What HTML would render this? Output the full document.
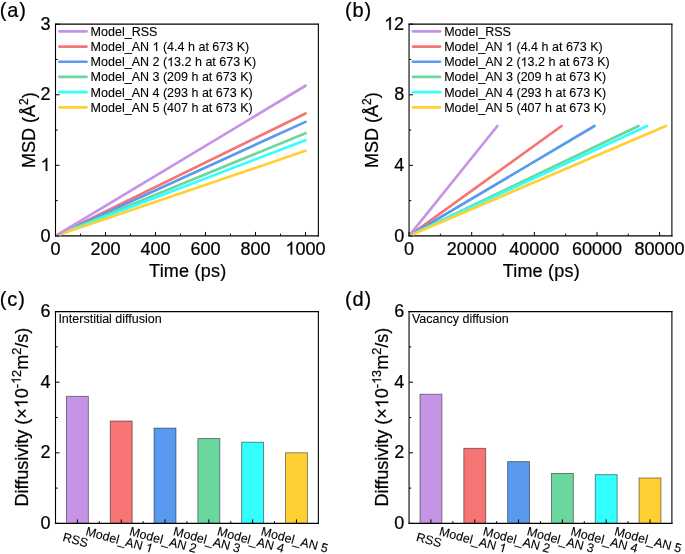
<!DOCTYPE html>
<html><head><meta charset="utf-8"><style>
html,body{margin:0;padding:0;background:#fff;}
svg{display:block;will-change:transform;}
text{stroke:#000;stroke-width:0.22px;}
.s{stroke-width:0.1px;}
</style></head><body>
<svg width="685" height="554" viewBox="0 0 685 554" font-family="&quot;Liberation Sans&quot;, sans-serif" fill="#000">
<rect width="685" height="554" fill="#fff"></rect>
<text transform="translate(-0.2,16.7) scale(1,1.04)" font-size="20" letter-spacing="0.85">(a)</text>
<text transform="translate(345.1,16.7) scale(1,1.04)" font-size="20" letter-spacing="0.85">(b)</text>
<text transform="translate(-0.2,305.75) scale(1,1.04)" font-size="20" letter-spacing="0.85">(c)</text>
<text transform="translate(345.1,305.75) scale(1,1.04)" font-size="20" letter-spacing="0.85">(d)</text>
<clipPath id="c55"><rect x="56.05" y="24.2" width="261.75" height="211.70"></rect></clipPath>
<path d="M55.5 23.7V236.5M318.35 23.7V236.5" stroke="#000" stroke-width="1.1" fill="none"></path>
<path d="M54.95 24.2H318.90000000000003M54.95 235.9H318.90000000000003" stroke="#000" stroke-width="1.25" fill="none"></path>
<g clip-path="url(#c55)">
<line x1="55.5" y1="235.9" x2="305.50" y2="113.47" stroke="#F77474" stroke-width="2.7" stroke-linecap="round"></line>
<line x1="55.5" y1="235.9" x2="305.50" y2="121.86" stroke="#5A9AEE" stroke-width="2.7" stroke-linecap="round"></line>
<line x1="55.5" y1="235.9" x2="305.50" y2="133.23" stroke="#6BD69D" stroke-width="2.7" stroke-linecap="round"></line>
<line x1="55.5" y1="235.9" x2="305.50" y2="140.21" stroke="#33FFFF" stroke-width="2.7" stroke-linecap="round"></line>
<line x1="55.5" y1="235.9" x2="305.50" y2="150.80" stroke="#FFCF33" stroke-width="2.7" stroke-linecap="round"></line>
<line x1="55.5" y1="235.9" x2="305.50" y2="85.73" stroke="#C594E6" stroke-width="2.7" stroke-linecap="round"></line>
</g>
<line x1="59.4" y1="31.35" x2="86.5" y2="31.35" stroke="#C594E6" stroke-width="2.7" stroke-linecap="round"></line>
<text x="90.6" y="35.85" font-size="12.52" class="s">Model_RSS</text>
<line x1="59.4" y1="46.55" x2="86.5" y2="46.55" stroke="#F77474" stroke-width="2.7" stroke-linecap="round"></line>
<text x="90.6" y="51.05" font-size="12.52" class="s">Model_AN &#8199; (4.4 h at 673 K)</text><g><path d="M763 0H583V1147Q518 1085 465 1054Q412 1023 359 992Q306 961 223 930V1104Q374 1175 430.5 1225.5Q487 1276 543.5 1326.5Q600 1377 647 1472H763Z" transform="translate(152.51,51.05) scale(0.006113,-0.006113)" stroke="#000" stroke-width="16.4"></path></g>
<line x1="59.4" y1="61.75" x2="86.5" y2="61.75" stroke="#5A9AEE" stroke-width="2.7" stroke-linecap="round"></line>
<text x="90.6" y="66.25" font-size="12.52" class="s">Model_AN 2 (&#8199;3.2 h at 673 K)</text><g><path d="M763 0H583V1147Q518 1085 465 1054Q412 1023 359 992Q306 961 223 930V1104Q374 1175 430.5 1225.5Q487 1276 543.5 1326.5Q600 1377 647 1472H763Z" transform="translate(167.12,66.25) scale(0.006113,-0.006113)" stroke="#000" stroke-width="16.4"></path></g>
<line x1="59.4" y1="76.95" x2="86.5" y2="76.95" stroke="#6BD69D" stroke-width="2.7" stroke-linecap="round"></line>
<text x="90.6" y="81.45" font-size="12.52" class="s">Model_AN 3 (209 h at 673 K)</text>
<line x1="59.4" y1="92.15" x2="86.5" y2="92.15" stroke="#33FFFF" stroke-width="2.7" stroke-linecap="round"></line>
<text x="90.6" y="96.65" font-size="12.52" class="s">Model_AN 4 (293 h at 673 K)</text>
<line x1="59.4" y1="107.35" x2="86.5" y2="107.35" stroke="#FFCF33" stroke-width="2.7" stroke-linecap="round"></line>
<text x="90.6" y="111.85" font-size="12.52" class="s">Model_AN 5 (407 h at 673 K)</text>
<path d="M55.50 235.9v-4M105.50 235.9v-4M155.50 235.9v-4M205.50 235.9v-4M255.50 235.9v-4M305.50 235.9v-4M80.50 235.9v-2.2M130.50 235.9v-2.2M180.50 235.9v-2.2M230.50 235.9v-2.2M280.50 235.9v-2.2" stroke="#000" stroke-width="1" fill="none"></path>
<text x="55.50" y="254.6" text-anchor="middle" font-size="18">0</text>
<text x="105.50" y="254.6" text-anchor="middle" font-size="18">200</text>
<text x="155.50" y="254.6" text-anchor="middle" font-size="18">400</text>
<text x="205.50" y="254.6" text-anchor="middle" font-size="18">600</text>
<text x="255.50" y="254.6" text-anchor="middle" font-size="18">800</text>
<text x="305.50" y="254.6" text-anchor="middle" font-size="18">&#8199;000</text><g><path d="M763 0H583V1147Q518 1085 465 1054Q412 1023 359 992Q306 961 223 930V1104Q374 1175 430.5 1225.5Q487 1276 543.5 1326.5Q600 1377 647 1472H763Z" transform="translate(285.48,254.60) scale(0.008789,-0.008789)" stroke="#000" stroke-width="25.0"></path></g>
<path d="M55.5 235.90h4M55.5 165.33h4M55.5 94.77h4M55.5 24.20h4M55.5 200.62h2.2M55.5 130.05h2.2M55.5 59.48h2.2" stroke="#000" stroke-width="1" fill="none"></path>
<text x="50.6" y="241.55" text-anchor="end" font-size="18">0</text>
<text x="50.6" y="170.98" text-anchor="end" font-size="18">&#8199;</text><g><path d="M763 0H583V1147Q518 1085 465 1054Q412 1023 359 992Q306 961 223 930V1104Q374 1175 430.5 1225.5Q487 1276 543.5 1326.5Q600 1377 647 1472H763Z" transform="translate(40.58,170.98) scale(0.008789,-0.008789)" stroke="#000" stroke-width="25.0"></path></g>
<text x="50.6" y="100.42" text-anchor="end" font-size="18">2</text>
<text x="50.6" y="29.85" text-anchor="end" font-size="18">3</text>
<text x="149.10" y="276.6" font-size="18" letter-spacing="0.22">Time (ps)</text>
<text transform="translate(35.25,130.05) rotate(-90)" text-anchor="middle" font-size="18">MSD (Å<tspan dy="-7" font-size="12">2</tspan><tspan dy="7">)</tspan></text>
<clipPath id="c409"><rect x="409.6" y="24.2" width="261.75" height="211.70"></rect></clipPath>
<path d="M409.05 23.7V236.5M671.9 23.7V236.5" stroke="#000" stroke-width="1.1" fill="none"></path>
<path d="M408.5 24.2H672.4499999999999M408.5 235.9H672.4499999999999" stroke="#000" stroke-width="1.25" fill="none"></path>
<g clip-path="url(#c409)">
<line x1="409.05" y1="235.9" x2="561.57" y2="125.99" stroke="#F77474" stroke-width="2.7" stroke-linecap="round"></line>
<line x1="409.05" y1="235.9" x2="594.46" y2="125.99" stroke="#5A9AEE" stroke-width="2.7" stroke-linecap="round"></line>
<line x1="409.05" y1="235.9" x2="638.46" y2="125.99" stroke="#6BD69D" stroke-width="2.7" stroke-linecap="round"></line>
<line x1="409.05" y1="235.9" x2="647.07" y2="125.99" stroke="#33FFFF" stroke-width="2.7" stroke-linecap="round"></line>
<line x1="409.05" y1="235.9" x2="665.86" y2="125.99" stroke="#FFCF33" stroke-width="2.7" stroke-linecap="round"></line>
<line x1="409.05" y1="235.9" x2="497.37" y2="125.99" stroke="#C594E6" stroke-width="2.7" stroke-linecap="round"></line>
</g>
<line x1="412.95" y1="31.35" x2="440.05" y2="31.35" stroke="#C594E6" stroke-width="2.7" stroke-linecap="round"></line>
<text x="444.15000000000003" y="35.85" font-size="12.52" class="s">Model_RSS</text>
<line x1="412.95" y1="46.55" x2="440.05" y2="46.55" stroke="#F77474" stroke-width="2.7" stroke-linecap="round"></line>
<text x="444.15000000000003" y="51.05" font-size="12.52" class="s">Model_AN &#8199; (4.4 h at 673 K)</text><g><path d="M763 0H583V1147Q518 1085 465 1054Q412 1023 359 992Q306 961 223 930V1104Q374 1175 430.5 1225.5Q487 1276 543.5 1326.5Q600 1377 647 1472H763Z" transform="translate(506.06,51.05) scale(0.006113,-0.006113)" stroke="#000" stroke-width="16.4"></path></g>
<line x1="412.95" y1="61.75" x2="440.05" y2="61.75" stroke="#5A9AEE" stroke-width="2.7" stroke-linecap="round"></line>
<text x="444.15000000000003" y="66.25" font-size="12.52" class="s">Model_AN 2 (&#8199;3.2 h at 673 K)</text><g><path d="M763 0H583V1147Q518 1085 465 1054Q412 1023 359 992Q306 961 223 930V1104Q374 1175 430.5 1225.5Q487 1276 543.5 1326.5Q600 1377 647 1472H763Z" transform="translate(520.67,66.25) scale(0.006113,-0.006113)" stroke="#000" stroke-width="16.4"></path></g>
<line x1="412.95" y1="76.95" x2="440.05" y2="76.95" stroke="#6BD69D" stroke-width="2.7" stroke-linecap="round"></line>
<text x="444.15000000000003" y="81.45" font-size="12.52" class="s">Model_AN 3 (209 h at 673 K)</text>
<line x1="412.95" y1="92.15" x2="440.05" y2="92.15" stroke="#33FFFF" stroke-width="2.7" stroke-linecap="round"></line>
<text x="444.15000000000003" y="96.65" font-size="12.52" class="s">Model_AN 4 (293 h at 673 K)</text>
<line x1="412.95" y1="107.35" x2="440.05" y2="107.35" stroke="#FFCF33" stroke-width="2.7" stroke-linecap="round"></line>
<text x="444.15000000000003" y="111.85" font-size="12.52" class="s">Model_AN 5 (407 h at 673 K)</text>
<path d="M409.05 235.9v-4M471.69 235.9v-4M534.33 235.9v-4M596.96 235.9v-4M659.60 235.9v-4M440.37 235.9v-2.2M503.01 235.9v-2.2M565.64 235.9v-2.2M628.28 235.9v-2.2" stroke="#000" stroke-width="1" fill="none"></path>
<text x="409.05" y="254.6" text-anchor="middle" font-size="18">0</text>
<text x="471.69" y="254.6" text-anchor="middle" font-size="18">20000</text>
<text x="534.33" y="254.6" text-anchor="middle" font-size="18">40000</text>
<text x="596.96" y="254.6" text-anchor="middle" font-size="18">60000</text>
<text x="659.60" y="254.6" text-anchor="middle" font-size="18">80000</text>
<path d="M409.05 235.90h4M409.05 165.33h4M409.05 94.77h4M409.05 24.20h4M409.05 200.62h2.2M409.05 130.05h2.2M409.05 59.48h2.2" stroke="#000" stroke-width="1" fill="none"></path>
<text x="404.15000000000003" y="241.55" text-anchor="end" font-size="18">0</text>
<text x="404.15000000000003" y="170.98" text-anchor="end" font-size="18">4</text>
<text x="404.15000000000003" y="100.42" text-anchor="end" font-size="18">8</text>
<text x="404.15000000000003" y="29.85" text-anchor="end" font-size="18">&#8199;2</text><g><path d="M763 0H583V1147Q518 1085 465 1054Q412 1023 359 992Q306 961 223 930V1104Q374 1175 430.5 1225.5Q487 1276 543.5 1326.5Q600 1377 647 1472H763Z" transform="translate(384.12,29.85) scale(0.008789,-0.008789)" stroke="#000" stroke-width="25.0"></path></g>
<text x="502.65" y="276.6" font-size="18" letter-spacing="0.22">Time (ps)</text>
<text transform="translate(378.0,130.05) rotate(-90)" text-anchor="middle" font-size="18">MSD (Å<tspan dy="-7" font-size="12">2</tspan><tspan dy="7">)</tspan></text>
<rect x="66.45" y="396.32" width="21.90" height="127.08" fill="#C594E6" stroke="#000" stroke-opacity="0.5" stroke-width="0.9"></rect>
<rect x="110.26" y="421.03" width="21.90" height="102.37" fill="#F77474" stroke="#000" stroke-opacity="0.5" stroke-width="0.9"></rect>
<rect x="154.07" y="428.09" width="21.90" height="95.31" fill="#5A9AEE" stroke="#000" stroke-opacity="0.5" stroke-width="0.9"></rect>
<rect x="197.88" y="438.50" width="21.90" height="84.90" fill="#6BD69D" stroke="#000" stroke-opacity="0.5" stroke-width="0.9"></rect>
<rect x="241.69" y="442.21" width="21.90" height="81.19" fill="#33FFFF" stroke="#000" stroke-opacity="0.5" stroke-width="0.9"></rect>
<rect x="285.49" y="452.80" width="21.90" height="70.60" fill="#FFCF33" stroke="#000" stroke-opacity="0.5" stroke-width="0.9"></rect>
<path d="M55.5 311.1V524.0M318.35 311.1V524.0" stroke="#000" stroke-width="1.1" fill="none"></path>
<path d="M54.95 311.6H318.90000000000003M54.95 523.4H318.90000000000003" stroke="#000" stroke-width="1.25" fill="none"></path>
<path d="M77.40 523.4v-4M121.21 523.4v-4M165.02 523.4v-4M208.83 523.4v-4M252.64 523.4v-4M296.45 523.4v-4M99.31 523.4v-2.2M143.12 523.4v-2.2M186.93 523.4v-2.2M230.73 523.4v-2.2M274.54 523.4v-2.2" stroke="#000" stroke-width="1" fill="none"></path>
<text transform="translate(74.40,544) rotate(15)" text-anchor="middle" font-size="12.5" class="s">RSS</text>
<text transform="translate(118.21,544) rotate(15)" text-anchor="middle" font-size="12.5" class="s">Model_AN &#8199;</text><g transform="translate(118.21,544) rotate(15)"><path d="M763 0H583V1147Q518 1085 465 1054Q412 1023 359 992Q306 961 223 930V1104Q374 1175 430.5 1225.5Q487 1276 543.5 1326.5Q600 1377 647 1472H763Z" transform="translate(27.43,0.00) scale(0.006104,-0.006104)" stroke="#000" stroke-width="16.4"></path></g>
<text transform="translate(162.02,544) rotate(15)" text-anchor="middle" font-size="12.5" class="s">Model_AN 2</text>
<text transform="translate(205.83,544) rotate(15)" text-anchor="middle" font-size="12.5" class="s">Model_AN 3</text>
<text transform="translate(249.64,544) rotate(15)" text-anchor="middle" font-size="12.5" class="s">Model_AN 4</text>
<text transform="translate(293.45,544) rotate(15)" text-anchor="middle" font-size="12.5" class="s">Model_AN 5</text>
<path d="M55.5 523.40h4M55.5 452.80h4M55.5 382.20h4M55.5 311.60h4M55.5 488.10h2.2M55.5 417.50h2.2M55.5 346.90h2.2" stroke="#000" stroke-width="1" fill="none"></path>
<text x="50.6" y="529.05" text-anchor="end" font-size="18">0</text>
<text x="50.6" y="458.45" text-anchor="end" font-size="18">2</text>
<text x="50.6" y="387.85" text-anchor="end" font-size="18">4</text>
<text x="50.6" y="317.25" text-anchor="end" font-size="18">6</text>
<text x="58.4" y="322.6" font-size="12.5" class="s">Interstitial diffusion</text>
<text transform="translate(27.6,417.10) rotate(-90)" text-anchor="middle" font-size="18">Diffusivity (×&#8199;0<tspan dy="-7" font-size="12.7">-&#8199;2</tspan><tspan dy="7">m</tspan><tspan dy="-7" font-size="12.7">2</tspan><tspan dy="7">/s)</tspan></text><g transform="translate(27.6,417.10) rotate(-90)"><path d="M763 0H583V1147Q518 1085 465 1054Q412 1023 359 992Q306 961 223 930V1104Q374 1175 430.5 1225.5Q487 1276 543.5 1326.5Q600 1377 647 1472H763Z" transform="translate(8.88,0.00) scale(0.008789,-0.008789)" stroke="#000" stroke-width="25.0"></path><path d="M763 0H583V1147Q518 1085 465 1054Q412 1023 359 992Q306 961 223 930V1104Q374 1175 430.5 1225.5Q487 1276 543.5 1326.5Q600 1377 647 1472H763Z" transform="translate(33.13,-7.00) scale(0.006201,-0.006201)" stroke="#000" stroke-width="35.5"></path></g>
<rect x="420.00" y="394.20" width="21.90" height="129.20" fill="#C594E6" stroke="#000" stroke-opacity="0.5" stroke-width="0.9"></rect>
<rect x="463.81" y="448.32" width="21.90" height="75.08" fill="#F77474" stroke="#000" stroke-opacity="0.5" stroke-width="0.9"></rect>
<rect x="507.62" y="461.62" width="21.90" height="61.77" fill="#5A9AEE" stroke="#000" stroke-opacity="0.5" stroke-width="0.9"></rect>
<rect x="551.43" y="473.49" width="21.90" height="49.91" fill="#6BD69D" stroke="#000" stroke-opacity="0.5" stroke-width="0.9"></rect>
<rect x="595.24" y="474.69" width="21.90" height="48.71" fill="#33FFFF" stroke="#000" stroke-opacity="0.5" stroke-width="0.9"></rect>
<rect x="639.04" y="478.00" width="21.90" height="45.40" fill="#FFCF33" stroke="#000" stroke-opacity="0.5" stroke-width="0.9"></rect>
<path d="M409.05 311.1V524.0M671.9 311.1V524.0" stroke="#000" stroke-width="1.1" fill="none"></path>
<path d="M408.5 311.6H672.4499999999999M408.5 523.4H672.4499999999999" stroke="#000" stroke-width="1.25" fill="none"></path>
<path d="M430.95 523.4v-4M474.76 523.4v-4M518.57 523.4v-4M562.38 523.4v-4M606.19 523.4v-4M650.00 523.4v-4M452.86 523.4v-2.2M496.67 523.4v-2.2M540.48 523.4v-2.2M584.28 523.4v-2.2M628.09 523.4v-2.2" stroke="#000" stroke-width="1" fill="none"></path>
<text transform="translate(427.95,544) rotate(15)" text-anchor="middle" font-size="12.5" class="s">RSS</text>
<text transform="translate(471.76,544) rotate(15)" text-anchor="middle" font-size="12.5" class="s">Model_AN &#8199;</text><g transform="translate(471.76,544) rotate(15)"><path d="M763 0H583V1147Q518 1085 465 1054Q412 1023 359 992Q306 961 223 930V1104Q374 1175 430.5 1225.5Q487 1276 543.5 1326.5Q600 1377 647 1472H763Z" transform="translate(27.43,0.00) scale(0.006104,-0.006104)" stroke="#000" stroke-width="16.4"></path></g>
<text transform="translate(515.57,544) rotate(15)" text-anchor="middle" font-size="12.5" class="s">Model_AN 2</text>
<text transform="translate(559.38,544) rotate(15)" text-anchor="middle" font-size="12.5" class="s">Model_AN 3</text>
<text transform="translate(603.19,544) rotate(15)" text-anchor="middle" font-size="12.5" class="s">Model_AN 4</text>
<text transform="translate(647.00,544) rotate(15)" text-anchor="middle" font-size="12.5" class="s">Model_AN 5</text>
<path d="M409.05 523.40h4M409.05 452.80h4M409.05 382.20h4M409.05 311.60h4M409.05 488.10h2.2M409.05 417.50h2.2M409.05 346.90h2.2" stroke="#000" stroke-width="1" fill="none"></path>
<text x="404.15000000000003" y="529.05" text-anchor="end" font-size="18">0</text>
<text x="404.15000000000003" y="458.45" text-anchor="end" font-size="18">2</text>
<text x="404.15000000000003" y="387.85" text-anchor="end" font-size="18">4</text>
<text x="404.15000000000003" y="317.25" text-anchor="end" font-size="18">6</text>
<text x="411.95" y="322.6" font-size="12.5" class="s">Vacancy diffusion</text>
<text transform="translate(388.2,417.10) rotate(-90)" text-anchor="middle" font-size="18">Diffusivity (×&#8199;0<tspan dy="-7" font-size="12.7">-&#8199;3</tspan><tspan dy="7">m</tspan><tspan dy="-7" font-size="12.7">2</tspan><tspan dy="7">/s)</tspan></text><g transform="translate(388.2,417.10) rotate(-90)"><path d="M763 0H583V1147Q518 1085 465 1054Q412 1023 359 992Q306 961 223 930V1104Q374 1175 430.5 1225.5Q487 1276 543.5 1326.5Q600 1377 647 1472H763Z" transform="translate(8.88,0.00) scale(0.008789,-0.008789)" stroke="#000" stroke-width="25.0"></path><path d="M763 0H583V1147Q518 1085 465 1054Q412 1023 359 992Q306 961 223 930V1104Q374 1175 430.5 1225.5Q487 1276 543.5 1326.5Q600 1377 647 1472H763Z" transform="translate(33.13,-7.00) scale(0.006201,-0.006201)" stroke="#000" stroke-width="35.5"></path></g>
</svg>

</body></html>
